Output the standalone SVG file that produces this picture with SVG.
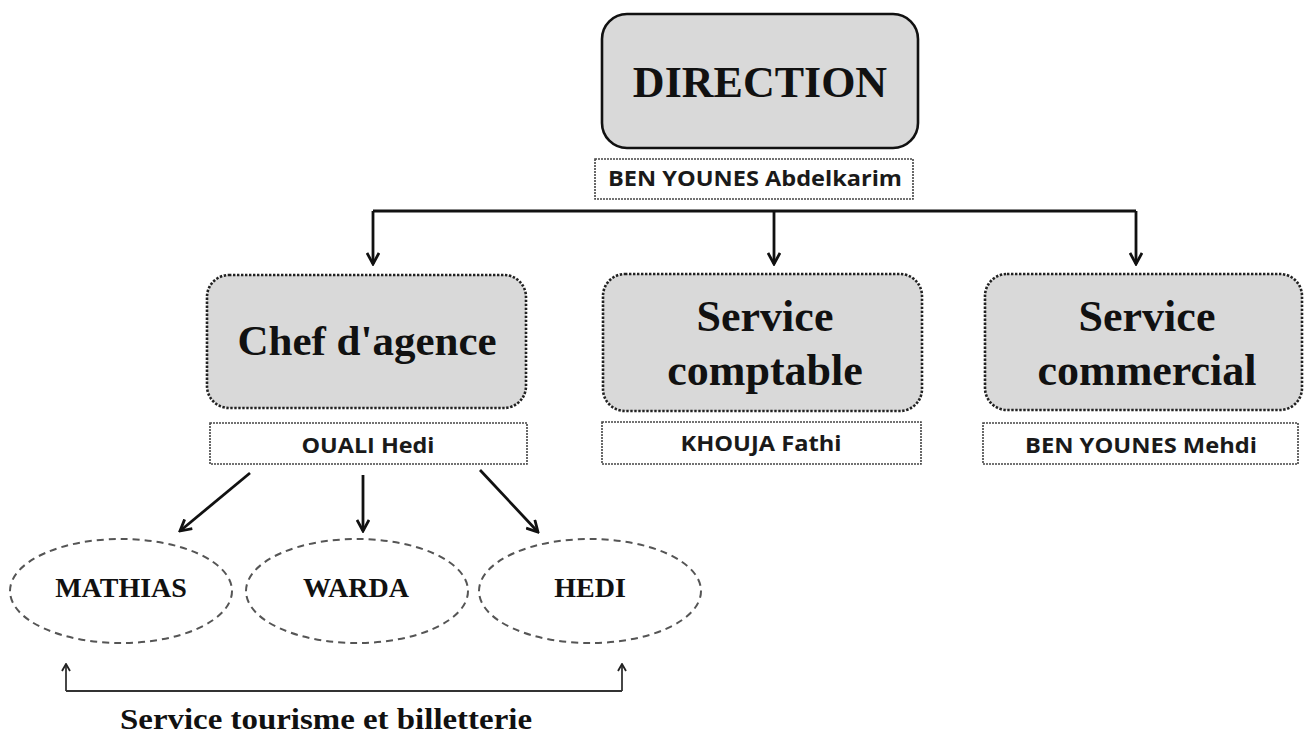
<svg xmlns="http://www.w3.org/2000/svg" width="1304" height="738" viewBox="0 0 1304 738">
  <defs>
    <marker id="vhead" viewBox="0 0 14 14" refX="12" refY="7" markerWidth="14" markerHeight="14" markerUnits="userSpaceOnUse" orient="auto">
      <path d="M1 1 L12 7 L1 13" fill="none" stroke="#111" stroke-width="2.8" stroke-linejoin="miter"/>
    </marker>
    <marker id="shead" viewBox="0 0 10 10" refX="9" refY="5" markerWidth="10" markerHeight="10" markerUnits="userSpaceOnUse" orient="auto">
      <path d="M2 1 L9 5 L2 9" fill="none" stroke="#222" stroke-width="1.8"/>
    </marker>
  </defs>
  <style>
    .title { font-family: "Liberation Serif", "Times New Roman", serif; font-weight: 700; fill: #111; text-anchor: middle; }
    .name { font-family: "Open Sans", "Liberation Sans", sans-serif; font-weight: 700; fill: #1a1a1a; text-anchor: middle; }
    .dirbox { fill: #d9d9d9; stroke: #111; stroke-width: 2.6; }
    .svcbox { fill: #d9d9d9; stroke: #222; stroke-width: 2.6; stroke-dasharray: 2.4 1.6; }
    .namebox { fill: #ffffff; stroke: #444; stroke-width: 1.6; stroke-dasharray: 2 1; }
    .oval { fill: #ffffff; stroke: #555; stroke-width: 2; stroke-dasharray: 7 5; }
    .conn { fill: none; stroke: #111; stroke-width: 2.8; }
    .thin { fill: none; stroke: #333; stroke-width: 1.8; }
  </style>
  <rect width="1304" height="738" fill="#ffffff"/>

  <g id="connectors">
    <path class="conn" d="M373 211 H1136"/>
    <path class="conn" d="M373 211 V264" marker-end="url(#vhead)"/>
    <path class="conn" d="M774 211 V264" marker-end="url(#vhead)"/>
    <path class="conn" d="M1136 211 V264" marker-end="url(#vhead)"/>
    <path class="conn" d="M250 473 L180 531" marker-end="url(#vhead)"/>
    <path class="conn" d="M363 475 V531" marker-end="url(#vhead)"/>
    <path class="conn" d="M480 470 L538 532" marker-end="url(#vhead)"/>
    <path class="thin" d="M66 691 H622"/>
    <path class="thin" d="M66 691 V664" marker-end="url(#shead)"/>
    <path class="thin" d="M622 691 V664" marker-end="url(#shead)"/>
  </g>

  <g id="direction">
    <rect class="dirbox" x="602" y="14" width="316" height="134" rx="25" ry="25"/>
    <text class="title" x="760" y="97" font-size="44">DIRECTION</text>
  </g>
  <g id="direction-name">
    <rect class="namebox" x="595" y="159" width="318" height="40"/>
    <text class="name" x="755" y="186" font-size="21" textLength="294" lengthAdjust="spacingAndGlyphs">BEN YOUNES Abdelkarim</text>
  </g>

  <g id="chef-agence">
    <rect class="svcbox" x="207" y="275" width="319" height="133" rx="22" ry="22"/>
    <text class="title" x="367" y="355" font-size="43">Chef d'agence</text>
  </g>
  <g id="chef-agence-name">
    <rect class="namebox" x="210" y="423" width="317" height="41"/>
    <text class="name" x="368" y="453" font-size="22" textLength="133" lengthAdjust="spacingAndGlyphs">OUALI Hedi</text>
  </g>

  <g id="service-comptable">
    <rect class="svcbox" x="603" y="274" width="319" height="137" rx="22" ry="22"/>
    <text class="title" x="765" y="331" font-size="44">Service</text>
    <text class="title" x="765" y="385" font-size="44">comptable</text>
  </g>
  <g id="service-comptable-name">
    <rect class="namebox" x="602" y="422" width="319" height="42"/>
    <text class="name" x="761" y="451" font-size="22" textLength="161" lengthAdjust="spacingAndGlyphs">KHOUJA Fathi</text>
  </g>

  <g id="service-commercial">
    <rect class="svcbox" x="985" y="274" width="317" height="136" rx="22" ry="22"/>
    <text class="title" x="1147" y="331" font-size="44">Service</text>
    <text class="title" x="1147" y="385" font-size="44">commercial</text>
  </g>
  <g id="service-commercial-name">
    <rect class="namebox" x="983" y="423" width="315" height="41"/>
    <text class="name" x="1141" y="453" font-size="22" textLength="232" lengthAdjust="spacingAndGlyphs">BEN YOUNES Mehdi</text>
  </g>

  <g id="mathias">
    <ellipse class="oval" cx="121" cy="591" rx="111" ry="52"/>
    <text class="title" x="121" y="597" font-size="28">MATHIAS</text>
  </g>
  <g id="warda">
    <ellipse class="oval" cx="357" cy="591" rx="111" ry="52"/>
    <text class="title" x="356" y="597" font-size="28">WARDA</text>
  </g>
  <g id="hedi">
    <ellipse class="oval" cx="590" cy="591" rx="111" ry="52"/>
    <text class="title" x="590" y="597" font-size="28">HEDI</text>
  </g>

  <g id="service-tourisme">
    <text class="title" x="326" y="729" font-size="30" textLength="412" lengthAdjust="spacingAndGlyphs">Service tourisme et billetterie</text>
  </g>
</svg>
